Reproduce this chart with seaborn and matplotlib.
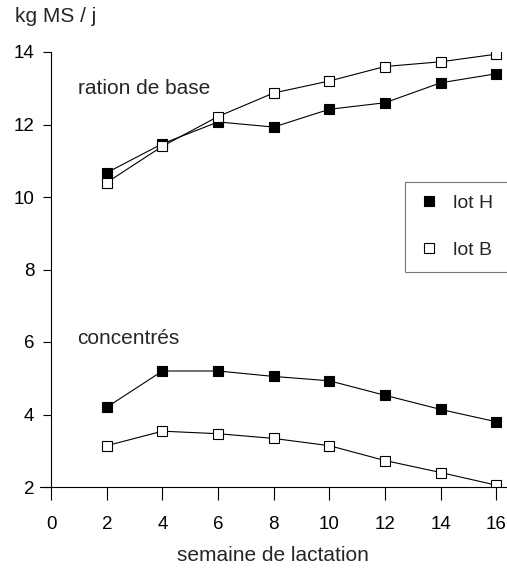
import matplotlib
matplotlib.use("Agg")
import matplotlib.pyplot as plt
from matplotlib.lines import Line2D
import seaborn as sns
import pandas as pd

weeks = [2, 4, 6, 8, 10, 12, 14, 16]
ration_H = [10.67, 11.47, 12.07, 11.93, 12.42, 12.6, 13.15, 13.4]
ration_B = [10.4, 11.4, 12.22, 12.87, 13.2, 13.6, 13.73, 13.94]
conc_H = [4.2, 5.2, 5.2, 5.05, 4.93, 4.53, 4.14, 3.8]
conc_B = [3.14, 3.54, 3.47, 3.34, 3.14, 2.73, 2.4, 2.05]
x_ticks = [0, 2, 4, 6, 8, 10, 12, 14, 16]
y_ticks = [2, 4, 6, 8, 10, 12, 14]

sns.set_style("white")
plt.rcParams['font.family'] = ['Liberation Sans', 'DejaVu Sans']

fig = plt.figure(figsize=(5.07, 5.69), dpi=100)
ax = fig.add_axes([40/507, 1-487/569, 466/507, (487-52)/569])

series = [
    (ration_H, "black"),
    (ration_B, "white"),
    (conc_H, "black"),
    (conc_B, "white"),
]
for vals, face in series:
    df = pd.DataFrame({"semaine": weeks, "val": vals})
    sns.lineplot(data=df, x="semaine", y="val", ax=ax, color="black", lw=0.8,
                 marker="s", markersize=7.5, markerfacecolor=face,
                 markeredgecolor="black", markeredgewidth=0.8)

ax.set_xlim(-0.4, 16.35)
ax.set_ylim(2, 14)
ax.set_xticks(x_ticks)
ax.set_yticks(y_ticks)
ax.spines['top'].set_visible(False)
ax.spines['right'].set_visible(False)
ax.spines['left'].set_position(('data', 0))
for s in ['left', 'bottom']:
    ax.spines[s].set_color('black')
    ax.spines[s].set_linewidth(0.8)
ax.tick_params(axis='y', direction='out', length=6, width=0.8, labelsize=13.5, pad=6, colors='black', left=True)
ax.tick_params(axis='x', direction='out', length=9, width=0.8, labelsize=13.5, pad=12, colors='black', bottom=True)
ax.set_xlabel("semaine de lactation", fontsize=15, labelpad=9)
ax.set_ylabel("")

fig.text(15/507, 1-17/569, "kg MS / j", fontsize=15, va='center', ha='left')
ax.text(0.95, 13.0, "ration de base", fontsize=15, va='center', ha='left')
ax.text(0.95, 6.1, "concentrés", fontsize=15, va='center', ha='left')

handles = [
    Line2D([], [], ls='none', marker='s', markersize=7.5, markerfacecolor='black', markeredgecolor='black', markeredgewidth=0.8),
    Line2D([], [], ls='none', marker='s', markersize=7.5, markerfacecolor='white', markeredgecolor='black', markeredgewidth=0.8),
]
leg = fig.legend(handles, ["lot H", "lot B"], loc='upper left',
                 bbox_to_anchor=(405/507, 1-182/569, 110/507, 0), mode='expand',
                 fontsize=14,
                 frameon=True, fancybox=False, edgecolor='#555555',
                 handletextpad=0.6, labelspacing=1.5, borderpad=0.65,
                 handlelength=1.2, borderaxespad=0)
leg.get_frame().set_linewidth(0.8)

fig.savefig("out.png", dpi=100)
